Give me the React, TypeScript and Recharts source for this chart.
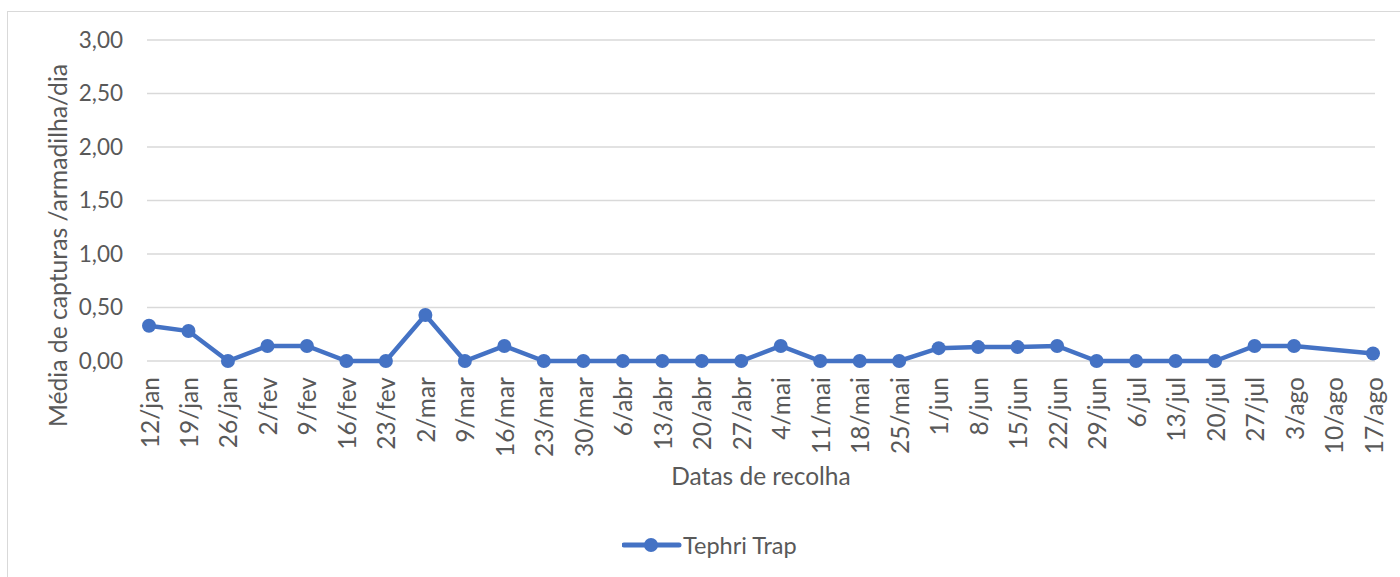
import React from "react";
import { LineChart, Line, XAxis, YAxis, CartesianGrid, Legend } from "recharts";

// Datas de recolha (semanal)
const datas = [
  "12/jan", "19/jan", "26/jan", "2/fev", "9/fev", "16/fev", "23/fev", "2/mar",
  "9/mar", "16/mar", "23/mar", "30/mar", "6/abr", "13/abr", "20/abr", "27/abr",
  "4/mai", "11/mai", "18/mai", "25/mai", "1/jun", "8/jun", "15/jun", "22/jun",
  "29/jun", "6/jul", "13/jul", "20/jul", "27/jul", "3/ago", "10/ago", "17/ago",
];

// Média de capturas /armadilha/dia - Tephri Trap (10/ago sem registo)
const tephriTrap: (number | null)[] = [
  0.33, 0.28, 0, 0.14, 0.14, 0, 0, 0.43,
  0, 0.14, 0, 0, 0, 0, 0, 0,
  0.14, 0, 0, 0, 0.12, 0.13, 0.13, 0.14,
  0, 0, 0, 0, 0.14, 0.14, null, 0.07,
];

const yTicks = [0, 0.5, 1, 1.5, 2, 2.5, 3];

const data = datas.map((d, i) => ({ data: d, tephri: tephriTrap[i] }));

const FONT = "Lato, 'Open Sans', sans-serif";
const TEXT = "#595959";
const BLUE = "#4472C4";
const GRID = "#d9d9d9";

const fmt = (v: number) => v.toFixed(2).replace(".", ",");

function XTick(props: any) {
  const { x, y, payload } = props;
  return (
    <text
      x={x}
      y={y}
      transform={`rotate(-90, ${x}, ${y})`}
      textAnchor="end"
      dominantBaseline="central"
      fill={TEXT}
      fontSize={24.5}
      fontFamily={FONT}
    >
      {payload.value}
    </text>
  );
}

function YTitle(props: any) {
  const vb = props.viewBox || { x: 0, y: 40, width: 147, height: 321 };
  const cx = 57;
  const cy = vb.y + vb.height / 2 + 45;
  return (
    <text
      x={cx}
      y={cy}
      transform={`rotate(-90, ${cx}, ${cy})`}
      textAnchor="middle"
      dominantBaseline="central"
      fill={TEXT}
      fontSize={24.7}
      fontFamily={FONT}
    >
      Média de capturas /armadilha/dia
    </text>
  );
}

function XTitle(props: any) {
  const vb = props.viewBox || { x: 147, y: 361, width: 1228, height: 169 };
  return (
    <text
      x={vb.x + vb.width / 2}
      y={vb.y + 114}
      textAnchor="middle"
      dominantBaseline="central"
      fill={TEXT}
      fontSize={24.5}
      fontFamily={FONT}
    >
      Datas de recolha
    </text>
  );
}

function LegendContent() {
  return (
    <div style={{ position: "relative", width: 1400, height: 30 }}>
      <svg width={60} height={30} style={{ position: "absolute", left: 622, top: 0 }}>
        <line x1={2} y1={15} x2={57} y2={15} stroke={BLUE} strokeWidth={5} strokeLinecap="round" />
        <circle cx={29} cy={15} r={7} fill={BLUE} />
      </svg>
      <span
        style={{
          position: "absolute",
          left: 683,
          top: 0,
          lineHeight: "30px",
          fontSize: 23.5,
          fontFamily: FONT,
          color: TEXT,
          whiteSpace: "nowrap",
        }}
      >
        Tephri Trap
      </span>
    </div>
  );
}

export default function App() {
  return (
    <div
      style={{
        position: "absolute",
        left: 0,
        top: 0,
        width: 1400,
        height: 577,
        overflow: "hidden",
        background: "#fff",
      }}
    >
      <div
        style={{
          position: "absolute",
          left: 7,
          top: 11,
          width: 1500,
          height: 700,
          border: `1px solid ${GRID}`,
        }}
      />
      <div style={{ position: "absolute", left: 0, top: 0 }}>
        <LineChart
          width={1400}
          height={577}
          data={data}
          margin={{ top: 40, right: 25, left: 0, bottom: 17 }}
        >
          <CartesianGrid vertical={false} stroke={GRID} strokeWidth={1.5} />
          <XAxis
            dataKey="data"
            interval={0}
            height={169}
            axisLine={false}
            tickLine={false}
            tickSize={0}
            tickMargin={16}
            padding={{ left: 2, right: 2 }}
            tick={<XTick />}
            label={<XTitle />}
          />
          <YAxis
            domain={[0, 3]}
            ticks={yTicks}
            width={147}
            axisLine={false}
            tickLine={false}
            tickSize={0}
            tickMargin={24}
            tickFormatter={fmt}
            tick={{ fill: TEXT, fontSize: 22.5, fontFamily: FONT }}
            label={<YTitle />}
          />
          <Legend
            verticalAlign="bottom"
            height={30}
            wrapperStyle={{ left: 0, width: 1400 }}
            content={<LegendContent />}
          />
          <Line
            type="linear"
            dataKey="tephri"
            name="Tephri Trap"
            stroke={BLUE}
            strokeWidth={4.5}
            dot={{ r: 7, fill: BLUE, stroke: BLUE, strokeWidth: 0 }}
            connectNulls
            isAnimationActive={false}
          />
        </LineChart>
      </div>
    </div>
  );
}
